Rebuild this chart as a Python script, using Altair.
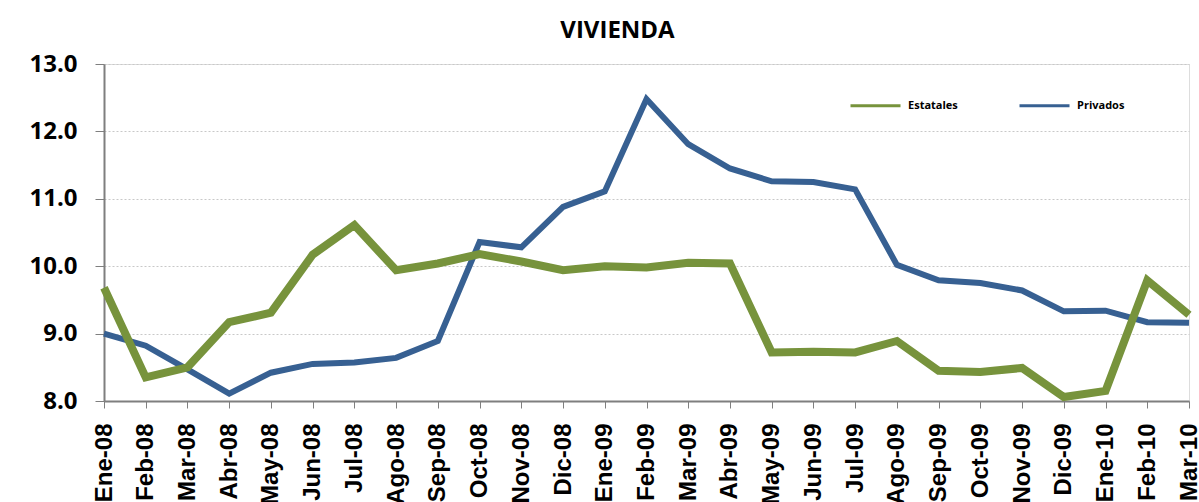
import altair as alt
import pandas as pd

# Monthly series, Jan 2008 - Mar 2010
months = [
    "Ene-08", "Feb-08", "Mar-08", "Abr-08", "May-08", "Jun-08", "Jul-08",
    "Ago-08", "Sep-08", "Oct-08", "Nov-08", "Dic-08", "Ene-09", "Feb-09",
    "Mar-09", "Abr-09", "May-09", "Jun-09", "Jul-09", "Ago-09", "Sep-09",
    "Oct-09", "Nov-09", "Dic-09", "Ene-10", "Feb-10", "Mar-10",
]
estatales = [
    9.68, 8.35, 8.50, 9.17, 9.31, 10.17, 10.61, 9.94, 10.04, 10.18,
    10.07, 9.94, 10.00, 9.98, 10.05, 10.04, 8.72, 8.73, 8.72, 8.89,
    8.45, 8.43, 8.49, 8.06, 8.15, 9.79, 9.28,
]
privados = [
    9.00, 8.82, 8.47, 8.11, 8.42, 8.55, 8.57, 8.64, 8.89, 10.36,
    10.28, 10.88, 11.11, 12.48, 11.81, 11.45, 11.26, 11.25, 11.14, 10.02,
    9.79, 9.75, 9.64, 9.33, 9.34, 9.17, 9.16,
]
series_names = ["Estatales", "Privados"]
series_colors = ["#77933C", "#376092"]

df = pd.DataFrame(
    {
        "mes": months * 2,
        "serie": ["Estatales"] * len(months) + ["Privados"] * len(months),
        "valor": estatales + privados,
    }
)

x_enc = alt.X(
    "mes:O",
    sort=months,
    scale=alt.Scale(type="point", padding=0),
    axis=alt.Axis(
        title=None,
        labelAngle=-90,
        labelFont="Liberation Sans",
        labelFontWeight="bold",
        labelFontSize=24,
        labelColor="#000000",
        labelPadding=15,
        labelBaseline="middle",
        tickColor="#7f7f7f",
        tickSize=7,
        domainColor="#7f7f7f",
        domainWidth=2,
        grid=False,
    ),
)
y_enc = alt.Y(
    "valor:Q",
    scale=alt.Scale(domain=[8, 13], nice=False, zero=False),
    axis=alt.Axis(
        title=None,
        values=[8, 9, 10, 11, 12, 13],
        format=".1f",
        labelFont="Open Sans",
        labelFontWeight="bold",
        labelFontSize=24,
        labelColor="#000000",
        labelPadding=18,
        tickColor="#7f7f7f",
        tickSize=9,
        domainColor="#7f7f7f",
        domainWidth=2,
        gridColor="#c8c8c8",
        gridDash=[2, 2],
    ),
)
color_enc = alt.Color(
    "serie:N",
    scale=alt.Scale(domain=series_names, range=series_colors),
    legend=alt.Legend(
        title=None,
        orient="none",
        direction="horizontal",
        legendX=745,
        legendY=15,
        symbolType="stroke",
        symbolSize=2500,
        symbolStrokeWidth=3,
        labelFont="Open Sans",
        labelFontWeight="bold",
        labelFontSize=11,
        labelColor="#000000",
        labelOffset=6,
        columnPadding=55,
    ),
)

base = alt.Chart(df).encode(x=x_enc, y=y_enc, color=color_enc)

# Privados drawn first so Estatales sits on top at the crossings
privados_line = base.transform_filter(alt.datum.serie == "Privados").mark_line(
    strokeWidth=6, strokeJoin="miter"
)
estatales_line = base.transform_filter(alt.datum.serie == "Estatales").mark_line(
    strokeWidth=8, strokeJoin="miter"
)

chart = (
    alt.layer(privados_line, estatales_line)
    .properties(
        width=1085,
        height=337,
        autosize=alt.AutoSizeParams(type="none"),
        padding={"left": 104, "top": 64, "right": 10, "bottom": 101},
        title=alt.TitleParams(
            "VIVIENDA",
            font="Open Sans",
            fontWeight="bold",
            fontSize=24,
            color="#000000",
            anchor="middle",
            dx=-29,
            offset=9,
        ),
    )
    .configure_view(stroke="#8c8c8c", strokeWidth=2)
    .configure(background="#ffffff")
)

chart.save("out.html", embed_options={"renderer": "svg", "actions": False})
